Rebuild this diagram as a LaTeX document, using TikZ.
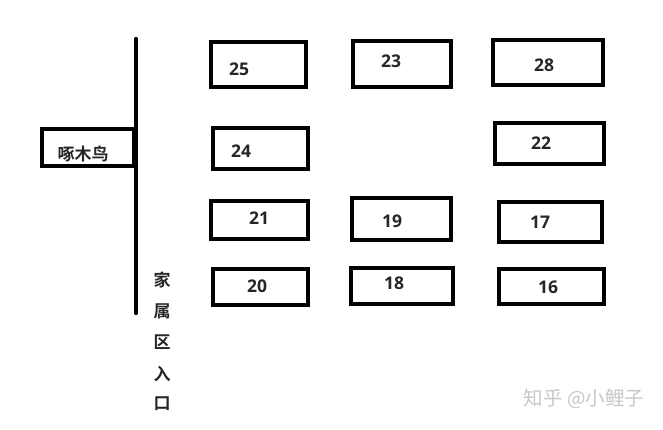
\documentclass[tikz,border=0pt]{standalone}
\usepackage{fontspec}
\setmainfont{Noto Sans CJK SC}[BoldFont={Noto Sans CJK SC Bold}]
\newfontfamily\numfont{Open Sans}[BoldFont={Open Sans Bold}]
\tikzset{
  house/.style={draw,rectangle,line width=4pt,inner sep=0pt},
  housenum/.style={font=\numfont\bfseries\fontsize{17.5}{18}\selectfont,text=black!85},
  gatechar/.style={font=\bfseries\fontsize{17}{18}\selectfont,text=black!85},
  mark text/.style={font=\fontsize{19.5}{20}\selectfont,text=black!22}
}
\begin{document}
\begin{tikzpicture}[x=1pt,y=-1pt]
        \useasboundingbox (0,0) rectangle (663,429);

        \coordinate (roadtop) at (136,39);
        \coordinate (roadend) at (136,313);

        % row by row, left to right
        \begin{scope}[every node/.style={house}]
          \node[minimum width=95.5pt,minimum height=45pt]  (h25) at (258.5,64)  {};
          \node[minimum width=98pt,minimum height=46pt] (h23) at (401.5,63.5) {};
          \node[minimum width=110pt,minimum height=45pt] (h28) at (547.5,62) {};
          \node[minimum width=95pt,minimum height=41pt] (h24) at (260,148) {};
          \node[minimum width=109pt,minimum height=41pt] (h22) at (549,143) {};
          \node[minimum width=97pt,minimum height=38pt] (h21) at (259,219.5) {};
          \node[minimum width=99pt,minimum height=42pt] (h19) at (401,218.5) {};
          \node[minimum width=103pt,minimum height=40pt] (h17) at (550,221.5) {};
          \node[minimum width=95pt,minimum height=36pt] (h20) at (260,286.5) {};
          \node[minimum width=102pt,minimum height=36pt] (h18) at (401.5,285.5) {};
          \node[minimum width=105pt,minimum height=35pt] (h16) at (551,286) {};
          \node[minimum width=92pt,minimum height=37pt] (bird) at (88,147) {};
        \end{scope}

        \draw[line width=4.4pt,line cap=round] (roadtop) -- (roadend);

        \begin{scope}[every node/.style={housenum}]
          \node (n25) at (239,69)  {25};
          \node (n23) at (391,61)  {23};
          \node (n28) at (544,65)  {28};
          \node (n24) at (241,151) {24};
          \node (n22) at (541,143) {22};
          \node (n21) at (259,218) {21};
          \node (n19) at (392,221) {19};
          \node (n17) at (540,222) {17};
          \node (n20) at (257,286) {20};
          \node (n18) at (394,283) {18};
          \node (n16) at (548,287) {16};
        \end{scope}

        \node[font=\bfseries\fontsize{17}{18}\selectfont,text=black!85] (birdname) at (83,154) {啄木鸟};

        \begin{scope}[every node/.style={gatechar}]
          \node (g1) at (162,280) {家};
          \node (g2) at (162,311) {属};
          \node (g3) at (162,342) {区};
          \node (g4) at (162,374) {入};
          \node (g5) at (162,404) {口};
        \end{scope}

        \node[mark text] (zhihu) at (584,399) {知乎 @小鲤子};

      \end{tikzpicture}
\end{document}
